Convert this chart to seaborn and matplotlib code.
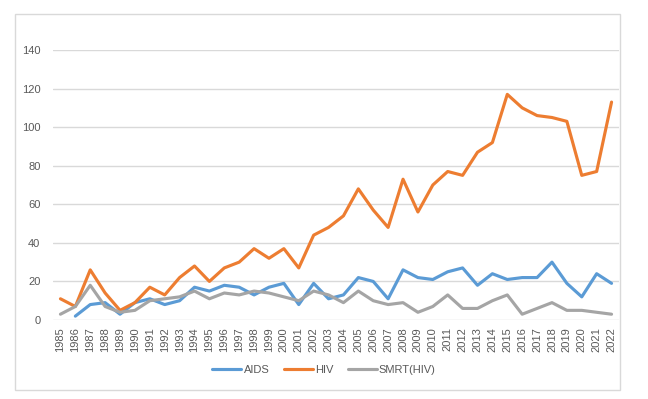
import numpy as np
import pandas as pd
import matplotlib
matplotlib.use('Agg')
import matplotlib.pyplot as plt
import seaborn as sns
from matplotlib.patches import Rectangle

years = list(range(1985, 2023))
aids = [np.nan, 2, 8, 9, 3, 9, 11, 8, 10, 17, 15, 18, 17, 13, 17, 19, 8, 19, 11,
        13, 22, 20, 11, 26, 22, 21, 25, 27, 18, 24, 21, 22, 22, 30, 19, 12, 24, 19]
hiv = [11, 7, 26, 14, 5, 9, 17, 13, 22, 28, 20, 27, 30, 37, 32, 37, 27, 44, 48,
       54, 68, 57, 48, 73, 56, 70, 77, 75, 87, 92, 117, 110, 106, 105, 103, 75, 77, 113]
smrt = [3, 7, 18, 7, 4, 5, 10, 11, 12, 15, 11, 14, 13, 15, 14, 12, 10, 15, 13,
        9, 15, 10, 8, 9, 4, 7, 13, 6, 6, 10, 13, 3, 6, 9, 5, 5, 4, 3]
series = ['AIDS', 'HIV', 'SMRT(HIV)']
colors = ['#5B9BD5', '#ED7D31', '#A5A5A5']

df = pd.DataFrame({'year': years, 'AIDS': aids, 'HIV': hiv, 'SMRT(HIV)': smrt})
long_df = df.melt(id_vars='year', var_name='series', value_name='count')

sns.set_style('white')
plt.rcParams['font.family'] = ['Liberation Sans', 'DejaVu Sans']

fig = plt.figure(figsize=(6.48, 3.99), dpi=100)
ax = fig.add_axes([53 / 648, 1 - 320 / 399, (619 - 53) / 648, 270 / 399])

sns.lineplot(data=long_df, x='year', y='count', hue='series', hue_order=series,
             palette=colors, linewidth=2.25, ax=ax)

ax.set_ylim(0, 140)
ax.set_yticks(range(0, 141, 20))
ax.set_xlim(1984.5, 2022.5)
ax.set_xticks(years)
ax.set_xticklabels([str(y) for y in years], rotation=90)
ax.tick_params(axis='both', length=0, labelsize=8, colors='#595959')
ax.tick_params(axis='y', pad=9)
ax.tick_params(axis='x', pad=5)
ax.yaxis.grid(True, color='#D9D9D9', linewidth=1)
ax.set_axisbelow(True)
for s in ax.spines.values():
    s.set_visible(False)
ax.set_xlabel('')
ax.set_ylabel('')

ax.legend_.remove()
handles, labels = ax.get_legend_handles_labels()
leg = fig.legend(handles, labels, loc='center', bbox_to_anchor=(0.5, 1 - 370 / 399),
                 ncol=3, frameon=False, fontsize=8, handlelength=2.6,
                 handletextpad=0.2, columnspacing=1.3)
for t in leg.get_texts():
    t.set_color('#595959')

fig.patches.append(Rectangle((15 / 648, 1 - 390 / 399), 605 / 648, 376 / 399,
                             transform=fig.transFigure, fill=False,
                             edgecolor='#D9D9D9', linewidth=1))

fig.savefig('out.png', dpi=100, facecolor='white')
